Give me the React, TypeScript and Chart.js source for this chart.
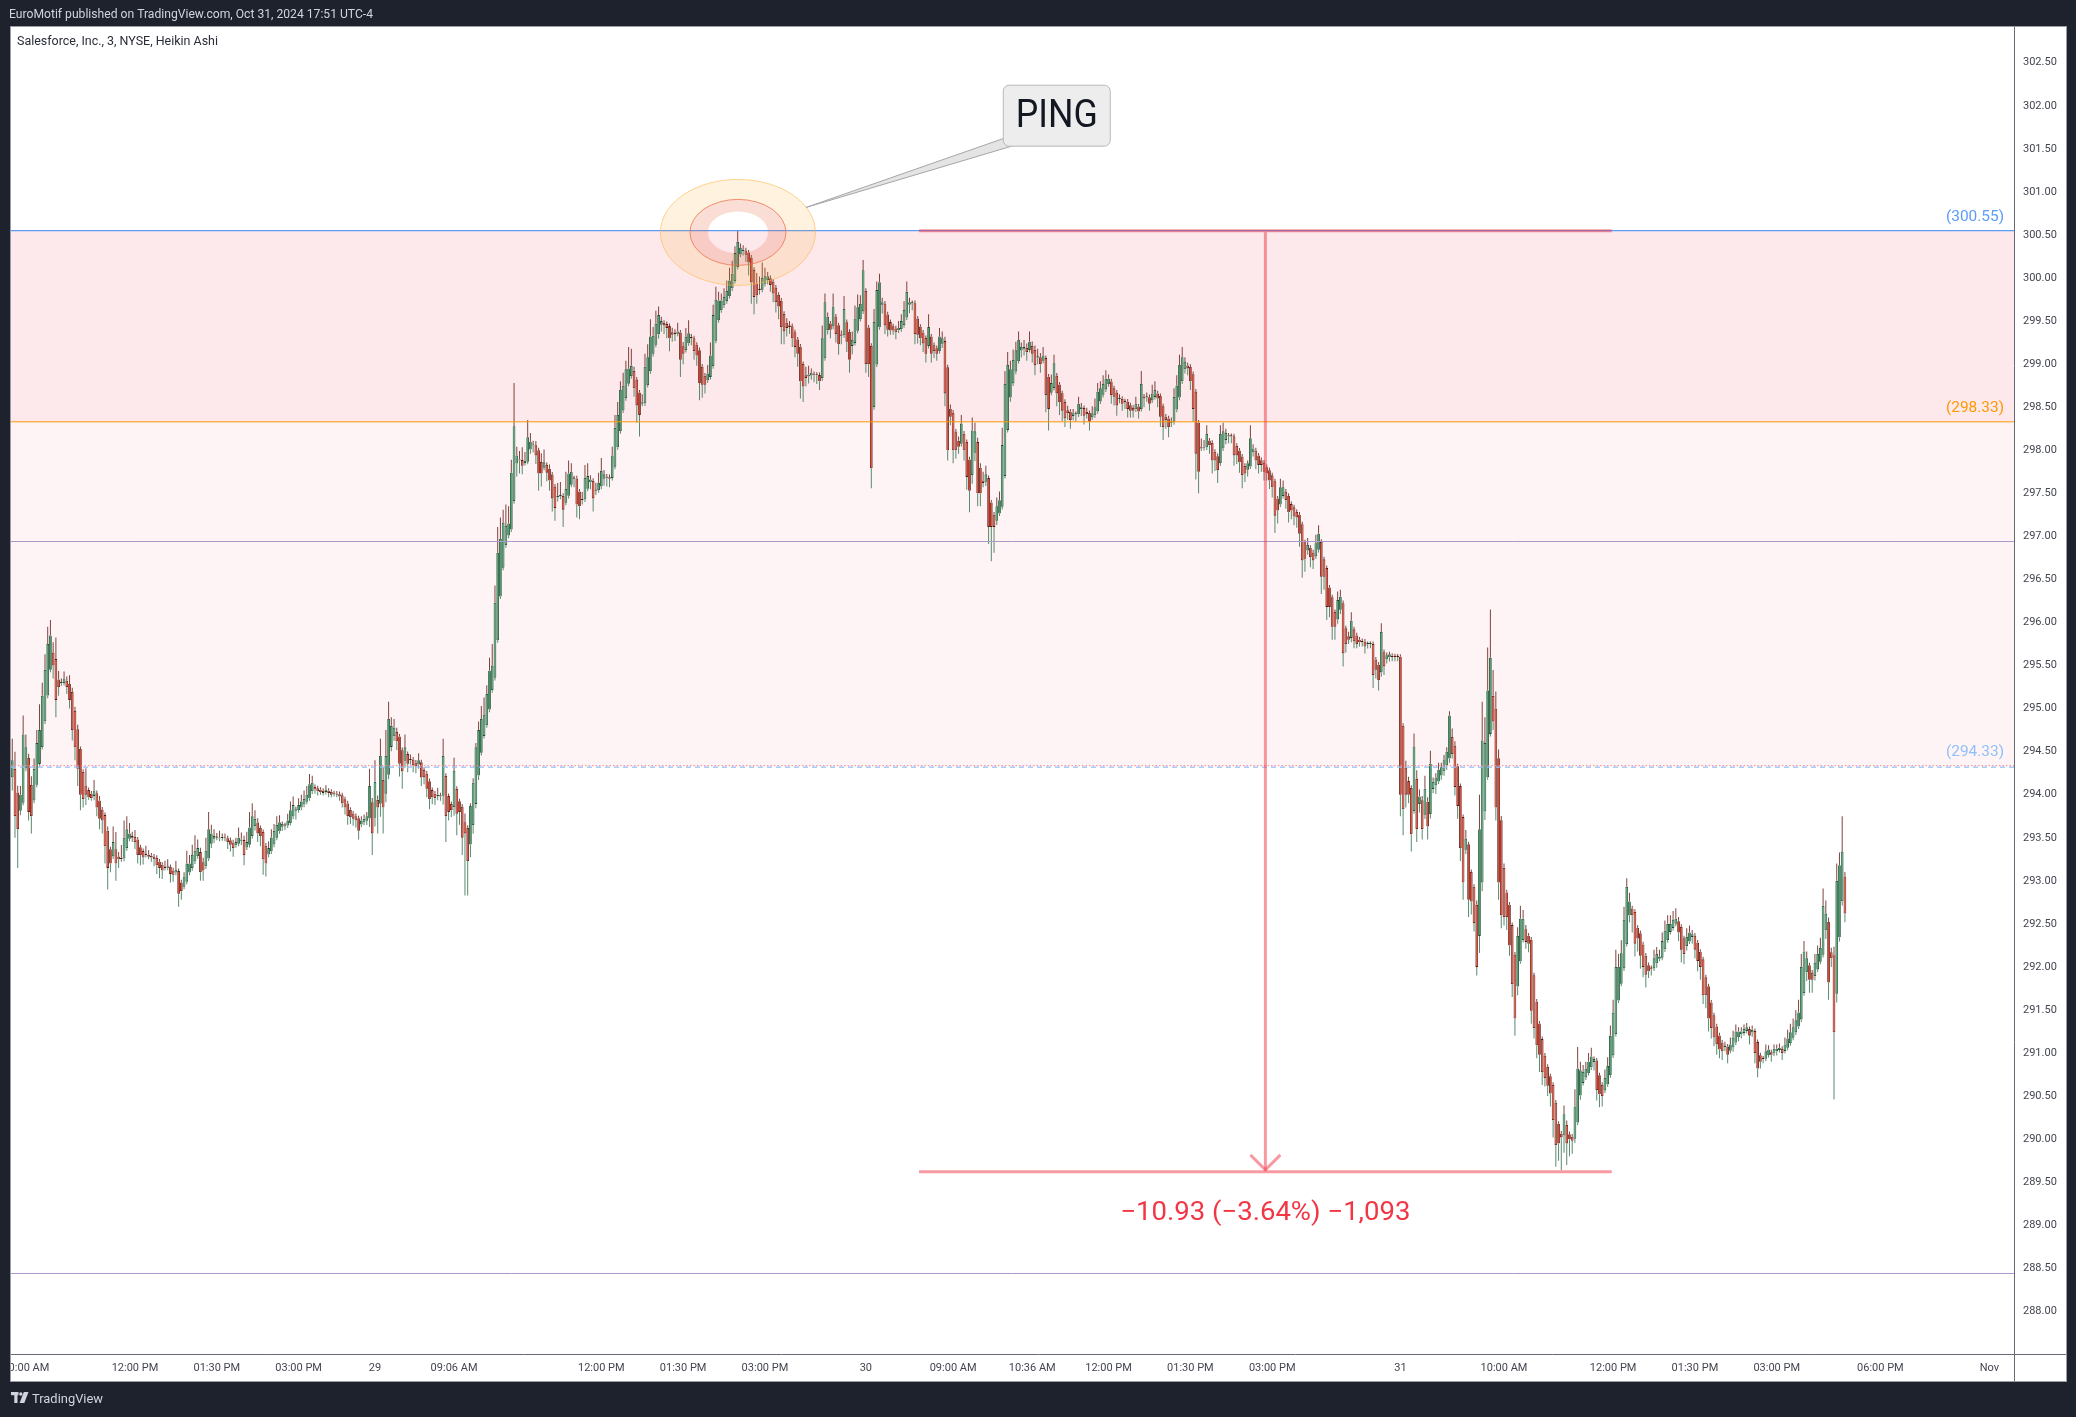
import React, { useEffect, useRef } from 'react';
import { Chart, registerables } from 'chart.js';

Chart.register(...registerables);

// ================= DATA =================
// Heikin Ashi, 3-minute bars. Bar index 0 = Oct 28 09:45.
const haSeedOpen = 294.2;

// Oct 28 regular session (09:45 - 15:57)
const oct28Close = [
  294.40,293.75,293.60,294.00,294.70,294.55,293.80,293.75,294.30,294.60,
  294.75,295.15,295.45,295.75,295.85,295.50,295.10,295.25,295.30,295.35,
  295.25,295.10,294.75,294.55,294.30,294.00,293.95,294.00,293.97,293.96,
  294.05,293.85,293.72,293.70,293.40,293.15,293.20,293.45,293.20,293.25,
  293.25,293.50,293.60,293.55,293.50,293.45,293.30,293.30,293.27,293.30,
  293.28,293.27,293.25,293.18,293.15,293.12,293.15,293.17,293.08,293.07,
  293.13,292.85,292.88,293.05,293.20,293.20,293.30,293.35,293.38,293.10,
  293.12,293.35,293.60,293.55,293.52,293.50,293.49,293.50,293.49,293.45,
  293.42,293.38,293.45,293.50,293.48,293.30,293.45,293.62,293.75,293.72,
  293.55,293.52,293.25,293.20,293.38,293.50,293.58,293.65,293.68,293.66,
  293.64,293.70,293.82,293.88,293.83,293.88,293.92,293.95,294.00,294.12,
  294.14,294.06,294.04,294.03,294.02,294.06,294.02,294.00,294.01,294.00,
  293.98,293.90,293.85,293.75,293.74];
const oct28Up = [
  25,20,8,10,22,15,5,10,12,15, 30,15,18,20,18,12,25,10,5,8,
  5,10,5,5,5,3,3,20,3,3, 12,3,5,3,3,5,3,18,20,5,
  15,20,15,12,5,8,3,3,3,10, 5,3,3,3,3,3,8,8,3,3,
  10,3,3,5,15,10,12,18,10,5, 5,15,20,10,8,5,8,5,5,3,
  3,3,5,12,8,5,12,18,15,10, 5,3,3,3,8,10,8,10,8,3,
  3,8,10,10,3,8,8,10,10,12, 8,3,3,3,3,5,3,3,3,3,
  3,3,3,3,3];
const oct28Down = [
  15,25,45,5,3,3,10,20,3,3, 3,3,3,3,3,15,20,10,3,3,
  8,10,12,15,20,18,10,12,3,3, 5,10,12,15,20,25,10,3,20,10,
  3,3,3,3,5,8,10,12,8,3, 3,5,8,10,12,10,3,3,10,8,
  3,15,10,3,3,3,3,3,3,10, 12,3,3,5,5,3,3,3,3,8,
  8,10,3,3,5,12,3,3,3,5, 10,12,18,15,3,3,3,3,3,5,
  5,3,3,3,10,3,3,3,3,3, 3,5,5,3,3,3,5,3,3,3,
  5,5,8,10,8];

// Extended hours Oct 28 post / Oct 29 pre
const ext1Close = [
  293.72,293.70,293.58,293.70,293.72,293.75,294.10,293.55,294.15,293.85,
  294.45,293.85,294.45,294.88,294.80,294.78,294.62,294.36,294.27,294.55,
  294.36,294.40,294.34,294.33,294.40,294.20,294.20,294.07,293.95,293.97,
  293.96,294.00,293.98,294.45,293.75,293.80,293.82,294.28,293.78,293.80,
  293.50];
const ext1Up = [
  3,3,3,5,5,5,20,5,25,5, 20,15,30,20,10,10,5,3,3,15,
  3,5,3,3,8,3,3,3,3,3, 3,8,3,20,3,3,3,15,3,3, 3];
const ext1Down = [
  8,8,10,3,3,5,10,25,10,30, 15,30,10,5,5,5,10,15,20,8,
  10,5,8,8,5,10,8,10,12,8, 8,5,5,10,30,10,8,10,25,15, 20];

// Oct 29 regular session
const oct29Close = [
  293.55,293.23,293.87,294.14,294.55,294.75,294.88,294.93,295.17,295.44,
  295.50,296.23,296.81,296.97,297.16,297.12,297.15,297.74,298.28,297.94,
  297.88,297.82,297.88,298.15,298.10,298.06,297.94,297.73,297.73,297.86,
  297.74,297.65,297.44,297.33,297.47,297.48,297.31,297.55,297.73,297.75,
  297.67,297.37,297.35,297.42,297.68,297.70,297.66,297.44,297.53,297.62,
  297.76,297.72,297.68,297.67,297.94,298.26,298.41,298.70,298.75,298.94,
  298.95,298.98,298.72,298.52,298.41,298.55,298.97,299.08,299.32,299.33,
  299.47,299.57,299.50,299.45,299.42,299.30,299.34,299.35,299.38,299.05,
  299.12,299.32,299.36,299.30,299.15,299.10,298.78,298.76,298.76,298.89,
  299.10,299.57,299.75,299.74,299.74,299.78,299.85,299.97,300.05,300.29,
  300.42,300.35,300.33,300.27,300.18,299.95,299.78,299.80,299.86,300.00,
  300.02,300.02,299.92,299.82,299.72,299.67,299.43,299.38,299.42,299.43,
  299.30,299.20,299.12,298.80,298.74,298.84,298.88,298.90,298.87,298.87];
const oct29Up = [
  10,3,3,5,5,10,15,20,10,15, 25,20,30,25,15,25,20,15,50,10,
  10,15,10,20,10,5,5,3,10,15, 3,5,3,3,15,15,3,20,15,10,
  3,3,3,8,15,15,5,3,8,12, 15,5,3,3,10,15,15,10,15,10,
  25,20,5,3,3,10,15,15,20,10, 15,10,5,3,3,3,5,5,10,3,
  5,10,15,5,3,3,3,3,3,10, 15,12,15,10,8,10,12,15,15,8,
  13,5,5,3,3,3,3,12,15,18, 10,5,3,3,3,3,3,3,5,5,
  3,3,3,3,3,10,10,5,3,3];
const oct29Down = [
  72,40,15,10,5,5,3,3,3,3, 3,3,3,3,3,3,3,3,3,15,
  15,10,3,3,5,8,10,20,15,3, 10,12,15,15,5,3,20,3,3,3,
  10,15,15,5,3,3,8,15,5,3, 3,8,10,10,3,3,3,3,3,3,
  3,3,10,20,25,3,3,3,3,3, 3,5,8,10,12,15,8,8,3,20,
  12,3,3,8,10,12,20,15,10,3, 3,3,3,3,3,3,3,3,3,3,
  3,3,5,8,15,25,20,10,5,3, 3,5,8,10,12,15,20,15,10,8,
  10,12,15,20,18,10,8,5,8,10];

// Extended hours Oct 29 post / Oct 30 pre
const ext2Close = [
  298.80,299.30,299.72,299.55,299.40,299.67,299.35,299.23,299.33,299.64,
  299.26,299.05,299.28,299.53,299.66,299.70,300.09,299.00,299.00,297.79,
  299.49,299.86,299.95,299.72,299.45,299.40,299.39,299.39,299.37,299.42,
  299.50,299.63,299.84,299.72,299.71,299.35,299.34,299.30,299.24,299.12,
  299.43,299.12,299.15,299.12,299.32,299.30,298.66,298.00,298.39,298.00,
  298.00,298.04,298.31,298.00,297.69,297.53];
const ext2Up = [
  3,15,10,5,3,15,3,3,5,15, 3,3,10,15,15,10,12,3,3,3,
  15,10,10,5,3,3,3,3,3,8, 8,10,12,5,3,3,3,3,3,3,
  15,3,3,3,10,8,5,3,5,3, 3,5,10,3,3,3];
const ext2Down = [
  10,3,3,5,10,3,10,12,10,3, 12,15,10,3,3,3,3,10,15,23,
  3,3,3,10,10,8,5,5,8,3, 3,3,3,10,8,12,10,8,10,10,
  3,10,8,8,3,5,15,12,10,15, 10,8,3,12,15,25];

// Oct 30 regular session
const oct30Close = [
  298.23,298.22,297.50,297.50,297.62,297.72,297.11,297.11,297.11,297.35,
  297.42,298.06,298.77,298.99,298.94,299.05,299.16,299.28,299.20,299.20,
  299.14,299.26,299.12,298.99,299.08,299.00,299.10,298.64,298.48,298.78,
  299.01,298.66,298.56,298.46,298.37,298.43,298.35,298.43,298.42,298.54,
  298.50,298.40,298.42,298.33,298.43,298.50,298.68,298.72,298.77,298.83,
  298.83,298.64,298.62,298.52,298.60,298.54,298.56,298.48,298.46,298.46,
  298.54,298.45,298.77,298.60,298.62,298.54,298.66,298.70,298.60,298.39,
  298.27,298.35,298.27,298.33,298.62,298.75,298.99,299.08,299.03,298.95,
  298.80,298.48,297.96,297.75,298.02,298.04,298.19,298.06,297.88,297.88,
  297.77,298.19,298.22,298.20,298.17,298.16,297.94,297.94,297.86,297.71,
  297.73,297.85,298.14,298.02,297.88,297.83,297.83,297.75,297.73,297.65,
  297.57,297.24,297.30,297.57,297.57,297.42,297.28,297.30,297.23,297.22,
  297.03,296.72,296.74,296.90,296.76,296.72,296.92,297.03,296.53,296.53];
const oct30Up = [
  15,10,5,5,10,10,3,3,3,10, 10,20,15,15,10,12,10,10,5,8,
  5,12,5,5,10,5,10,3,3,10, 10,3,3,3,3,5,3,5,3,8,
  5,3,5,3,8,10,10,8,10,10, 5,3,3,3,5,3,3,3,3,3,
  8,3,15,3,5,3,10,10,3,3, 3,3,3,5,10,12,12,12,5,3,
  3,3,3,3,10,8,10,3,3,3, 3,10,10,5,3,3,3,3,3,3,
  3,3,15,5,3,3,3,3,3,3, 3,3,3,10,8,3,3,3,3,3,
  3,3,3,8,3,3,10,10,3,3];
const oct30Down = [
  10,10,15,15,5,5,20,40,30,5, 3,3,3,3,5,3,3,3,8,8,
  10,3,10,12,8,10,3,20,25,3, 3,15,15,12,10,8,10,5,8,3,
  8,10,5,10,3,3,3,3,3,3, 3,10,10,12,5,8,8,10,8,8,
  3,8,3,10,5,8,3,3,10,12, 15,10,12,5,3,3,3,3,5,8,
  10,15,30,25,3,3,3,10,15,12, 15,3,3,5,8,8,12,10,12,15,
  10,8,3,5,10,10,8,10,8,10, 12,20,15,3,3,10,12,10,10,12,
  15,20,15,5,12,10,3,3,20,15];

// Extended hours Oct 30 post / Oct 31 pre
const ext3Close = [
  296.18,296.18,295.95,295.95,296.26,296.30,295.64,295.75,295.80,296.02,
  295.78,295.75,295.77,295.77,295.72,295.75,295.75,295.39,295.45,295.33,
  295.89,295.49,295.62,295.63,295.60,295.60,295.60,294.00,293.83,294.00,
  294.00,293.54,294.56,293.60,293.98,293.60,294.07,293.63,294.36,294.15,
  294.20,294.29,294.32,294.41,294.50,294.92,294.47,294.09,293.87,293.38,
  292.98,293.49,292.78,292.76,292.51];
const ext3Up = [
  3,3,3,3,10,8,3,3,5,10, 3,3,3,3,3,3,3,3,3,3,
  10,3,3,3,3,3,3,3,3,8, 5,3,15,10,8,5,15,5,15,5,
  5,8,5,5,5,5,10,5,3,3, 3,10,3,3,3];
const ext3Down = [
  15,12,15,15,5,5,15,10,5,5, 8,5,5,5,8,5,5,15,10,12,
  5,10,5,5,5,5,5,25,30,15, 10,20,3,15,10,12,5,15,5,5,
  10,3,5,5,5,5,5,10,15,15, 20,5,20,15,10];

// Oct 31 regular session
const oct31Close = [
  292.00,293.60,294.63,294.60,295.21,295.59,294.85,293.85,292.98,292.60,
  292.58,292.58,292.25,291.80,291.40,292.36,292.56,292.56,292.29,292.27,
  291.49,291.29,291.09,290.98,290.78,290.71,290.62,290.53,290.22,289.93,
  289.95,290.02,290.29,289.95,290.00,289.98,290.38,290.82,290.80,290.78,
  290.82,290.90,290.96,290.93,290.57,290.52,290.50,290.71,290.85,291.20,
  291.47,292.00,292.00,292.16,292.55,292.93,292.76,292.60,292.27,292.33,
  292.13,292.00,291.91,291.95,291.98,292.10,292.15,292.12,292.30,292.42,
  292.50,292.50,292.55,292.56,292.40,292.20,292.15,292.35,292.40,292.38,
  292.20,292.07,292.00,291.67,291.67,291.40,291.29,291.18,291.10,291.04,
  291.02,291.08,290.98,291.10,291.18,291.25,291.25,291.25,291.28,291.30,
  291.20,291.27,291.00,290.82,290.90,290.93,291.02,291.04,290.98,291.05,
  291.05,291.06,291.00,291.10,291.17,291.24,291.30,291.38,291.47,292.00,
  292.18,292.10,291.85,291.85,292.05,292.15,292.22,292.71,292.62,291.82];
const oct31Up = [
  5,40,45,30,50,56,30,20,10,5, 5,3,3,3,3,10,15,10,5,3,
  3,3,3,3,3,3,3,3,3,3, 3,3,10,5,3,3,20,25,10,8,
  8,10,10,3,3,3,3,10,10,12, 15,20,15,15,15,10,10,3,3,3,
  3,3,3,3,3,10,8,8,10,12, 10,10,10,12,5,3,3,10,8,5,
  3,3,3,3,3,3,3,3,3,3, 3,5,3,8,8,8,5,5,5,5,
  3,5,3,3,3,3,8,5,3,5, 5,5,3,8,10,10,10,12,15,15,
  12,8,3,3,10,10,12,20,15,5];
const oct31Down = [
  10,20,10,10,3,3,10,15,20,15, 10,15,12,15,20,10,3,3,8,10,
  15,12,15,20,15,10,12,15,20,25, 20,38,20,25,20,15,5,3,5,3,
  3,3,3,10,12,15,12,3,3,3, 3,3,3,3,3,3,8,20,15,15,
  15,12,15,8,8,3,5,3,3,3, 3,3,3,3,10,15,12,5,3,8,
  10,12,15,10,15,15,12,10,12,10, 10,5,10,3,5,3,5,5,3,3,
  10,5,12,10,8,5,3,3,8,3, 5,3,8,3,3,3,3,3,3,3,
  3,10,15,15,5,3,3,3,10,20];

// Oct 31 post-market
const post31Close = [292.10,291.24,293.00,293.18,293.34,292.62];
const post31Up = [5,10,20,15,41,5];
const post31Down = [10,78,10,5,5,10];

// Levels and drawings (price / bar-index units)
const levelTop = 300.55;
const levelMid = 298.33;
const levelLow = 294.33;
const guideLevels = [296.94, 288.44];
const levelLabels = ['(300.55)', '(298.33)', '(294.33)'];
const measureFromIdx = 332.5;
const measureToIdx = 586.5;
const measureTop = 300.55;
const measureBottom = 289.62;
const measureText = '\u221210.93 (\u22123.64%) \u22121,093';
const pingCenterIdx = 266.1;
const pingCenterPrice = 300.53;
const calloutTipIdx = 291.1;
const calloutTipPrice = 300.82;
const calloutBoxIdx = 383;
const calloutBoxPrice = 301.885;
const calloutText = 'PING';

// X axis tick labels (bar index -> label)
const xTickIndex = [5,45,75,105,133,162,216,246,276,313,345,374,402,432,462,509,547,587,617,647,685,725];
const xTickLabels = ['10:00 AM','12:00 PM','01:30 PM','03:00 PM','29','09:06 AM','12:00 PM','01:30 PM','03:00 PM','30','09:00 AM','10:36 AM','12:00 PM','01:30 PM','03:00 PM','31','10:00 AM','12:00 PM','01:30 PM','03:00 PM','06:00 PM','Nov'];

const headerText = 'EuroMotif published on TradingView.com, Oct 31, 2024 17:51 UTC-4';
const titleText = 'Salesforce, Inc., 3, NYSE, Heikin Ashi';
const footerText = 'TradingView';

// ================= BUILD =================
const closes = [...oct28Close, ...ext1Close, ...oct29Close, ...ext2Close, ...oct30Close, ...ext3Close, ...oct31Close, ...post31Close];
const ups = [...oct28Up, ...ext1Up, ...oct29Up, ...ext2Up, ...oct30Up, ...ext3Up, ...oct31Up, ...post31Up];
const downs = [...oct28Down, ...ext1Down, ...oct29Down, ...ext2Down, ...oct30Down, ...ext3Down, ...oct31Down, ...post31Down];

const opens: number[] = [];
for (let i = 0; i < closes.length; i++) {
  opens.push(i === 0 ? haSeedOpen : (opens[i - 1] + closes[i - 1]) / 2);
}
const isUp = closes.map((c, i) => c >= opens[i]);

const W = 2076, H = 1417;
const PANEL = { l: 11, t: 27, r: 2066, b: 1381 };
const DARK = '#1e222d';
const GREEN_FILL = '#449466';
const GREEN_LINE = '#154a2b';
const RED_FILL = '#dc3b24';
const RED_LINE = '#57150c';
const WICK_UP = 'rgba(112,48,42,0.9)';
const WICK_DOWN = 'rgba(72,124,94,0.9)';

function fitText(ctx: any, text: string, x: number, baseline: number, font: string, targetW: number, align: string, color: string) {
  ctx.save();
  ctx.font = font;
  ctx.fillStyle = color;
  ctx.textBaseline = 'alphabetic';
  ctx.textAlign = 'left';
  const w = ctx.measureText(text).width || 1;
  const sx = targetW / w;
  const left = align === 'left' ? x : align === 'center' ? x - targetW / 2 : x - targetW;
  ctx.translate(left, baseline);
  ctx.scale(sx, 1);
  ctx.fillText(text, 0, 0);
  ctx.restore();
}

const decorPlugin = {
  id: 'tvDecor',
  beforeDraw(chart: any) {
    const ctx = chart.ctx;
    ctx.save();
    ctx.fillStyle = DARK;
    ctx.fillRect(0, 0, W, H);
    ctx.fillStyle = '#ffffff';
    ctx.fillRect(PANEL.l, PANEL.t, PANEL.r - PANEL.l, PANEL.b - PANEL.t);
    ctx.restore();
  },
  beforeDatasetsDraw(chart: any) {
    const { ctx, chartArea: a, scales } = chart;
    const y = scales.y;
    const yT = y.getPixelForValue(levelTop), yM = y.getPixelForValue(levelMid), yL = y.getPixelForValue(levelLow);
    ctx.save();
    ctx.fillStyle = 'rgba(242,54,69,0.055)';
    ctx.fillRect(a.left, yT, a.right - a.left, yL - yT);
    ctx.fillRect(a.left, yT, a.right - a.left, yM - yT);
    ctx.restore();
  },
  afterDatasetsDraw(chart: any) {
    const { ctx, chartArea: a, scales } = chart;
    const xs = scales.x, ys = scales.y;
    const px = (v: number) => xs.getPixelForValue(v);
    const py = (v: number) => ys.getPixelForValue(v);
    ctx.save();
    ctx.beginPath();
    ctx.rect(a.left, a.top, a.right - a.left, a.bottom - a.top);
    ctx.clip();

    const hline = (yy: number, color: string, lw: number, dash: number[]) => {
      ctx.beginPath();
      ctx.setLineDash(dash);
      ctx.strokeStyle = color;
      ctx.lineWidth = lw;
      ctx.moveTo(a.left, yy);
      ctx.lineTo(a.right, yy);
      ctx.stroke();
      ctx.setLineDash([]);
    };
    guideLevels.forEach((g) => hline(py(g), '#ab98c9', 1, []));
    hline(py(levelMid), '#ff9800', 1, []);
    hline(py(levelTop), '#5b9cf6', 1.3, []);
    hline(py(levelLow) + 0.8, '#90bff9', 1.3, [5, 4]);
    hline(py(levelLow) - 0.6, '#f28b94', 1, [1.5, 2]);

    // target circles
    const cx = px(pingCenterIdx), cy = py(pingCenterPrice);
    const ring = (r1x: number, r1y: number, r2x: number, r2y: number, fill: string) => {
      ctx.beginPath();
      ctx.moveTo(cx + r1x, cy);
      ctx.ellipse(cx, cy, r1x, r1y, 0, 0, Math.PI * 2);
      ctx.moveTo(cx + r2x, cy);
      ctx.ellipse(cx, cy, r2x, r2y, 0, 0, Math.PI * 2);
      ctx.fillStyle = fill;
      ctx.fill('evenodd');
    };
    ring(77.5, 53, 48, 33, 'rgba(255,167,38,0.15)');
    ring(48, 33, 30, 21, 'rgba(230,100,60,0.22)');
    ctx.lineWidth = 1;
    ctx.beginPath();
    ctx.ellipse(cx, cy, 77.5, 53, 0, 0, Math.PI * 2);
    ctx.strokeStyle = 'rgba(255,183,77,0.6)';
    ctx.stroke();
    ctx.beginPath();
    ctx.ellipse(cx, cy, 48, 33, 0, 0, Math.PI * 2);
    ctx.strokeStyle = 'rgba(236,112,72,0.75)';
    ctx.stroke();

    // price range measurement
    const mx1 = px(measureFromIdx), mx2 = px(measureToIdx), mxc = (mx1 + mx2) / 2;
    const myT = py(measureTop), myB = py(measureBottom);
    ctx.strokeStyle = 'rgba(242,54,69,0.5)';
    ctx.lineWidth = 3;
    ctx.beginPath();
    ctx.moveTo(mx1, myT); ctx.lineTo(mx2, myT);
    ctx.stroke();
    ctx.beginPath();
    ctx.moveTo(mx1, myB); ctx.lineTo(mx2, myB);
    ctx.stroke();
    ctx.beginPath();
    ctx.moveTo(mxc, myT + 1.5); ctx.lineTo(mxc, myB - 1.5);
    ctx.stroke();
    ctx.beginPath();
    ctx.moveTo(mxc - 15, myB - 17); ctx.lineTo(mxc, myB - 2); ctx.lineTo(mxc + 15, myB - 17);
    ctx.stroke();

    // callout
    const tipX = px(calloutTipIdx), tipY = py(calloutTipPrice);
    const bx = px(calloutBoxIdx), by = py(calloutBoxPrice);
    const bw = 107, bh = 61;
    const l = bx - bw / 2, t = by - bh / 2;
    ctx.lineWidth = 1;
    ctx.beginPath();
    ctx.moveTo(tipX, tipY);
    ctx.lineTo(l + 1, t + bh - 8);
    ctx.lineTo(l + 10, t + bh - 0.5);
    ctx.closePath();
    ctx.fillStyle = '#e4e4e4';
    ctx.fill();
    ctx.strokeStyle = '#a6a6a6';
    ctx.stroke();
    ctx.beginPath();
    if (ctx.roundRect) ctx.roundRect(l, t, bw, bh, 6); else ctx.rect(l, t, bw, bh);
    ctx.fillStyle = '#ededed';
    ctx.fill();
    ctx.strokeStyle = '#b9b9b9';
    ctx.stroke();
    ctx.restore();

    fitText(ctx, calloutText, bx, t + 42, '38px Roboto', 82, 'center', '#131722');
    fitText(ctx, measureText, mxc, myB + 48, '26px Roboto', 290, 'center', '#f23645');

    // level labels
    const lblColors = ['#5b9cf6', '#ff9800', '#90bff9'];
    [levelTop, levelMid, levelLow].forEach((lv, k) => {
      fitText(ctx, levelLabels[k], a.right - 10, py(lv) - 10, '15px Roboto', 58, 'right', lblColors[k]);
    });

    fitText(ctx, titleText, 17, 45, '12px Roboto', 201, 'left', '#2a2e39');
  },
  afterDraw(chart: any) {
    const { ctx, chartArea: a, scales } = chart;
    const xs = scales.x;
    ctx.save();
    ctx.strokeStyle = '#676a74';
    ctx.lineWidth = 1;
    ctx.beginPath();
    ctx.moveTo(a.right + 0.5, PANEL.t);
    ctx.lineTo(a.right + 0.5, PANEL.b);
    ctx.moveTo(PANEL.l, a.bottom + 0.5);
    ctx.lineTo(PANEL.r, a.bottom + 0.5);
    ctx.stroke();
    ctx.strokeStyle = '#9a9da6';
    ctx.strokeRect(PANEL.l - 0.5, PANEL.t - 0.5, PANEL.r - PANEL.l + 1, PANEL.b - PANEL.t + 1);

    // x labels
    ctx.beginPath();
    ctx.rect(PANEL.l, a.bottom + 1, a.right - PANEL.l, PANEL.b - a.bottom - 1);
    ctx.clip();
    ctx.font = '11px Roboto';
    ctx.fillStyle = '#434651';
    ctx.textAlign = 'center';
    ctx.textBaseline = 'alphabetic';
    xTickIndex.forEach((idx, k) => {
      ctx.fillText(xTickLabels[k], xs.getPixelForValue(idx), 1370.5);
    });
    ctx.restore();

    // header and footer
    fitText(ctx, headerText, 9, 18, '12px Roboto', 364, 'left', '#d1d4dc');
    fitText(ctx, footerText, 32, 1403, '13px Roboto', 71, 'left', '#d1d4dc');
    ctx.save();
    ctx.fillStyle = '#d1d4dc';
    ctx.fillRect(11, 1392, 7.5, 3.2);
    ctx.fillRect(14.3, 1392, 3.2, 11);
    ctx.beginPath();
    ctx.arc(20.8, 1394, 1.7, 0, Math.PI * 2);
    ctx.fill();
    ctx.beginPath();
    ctx.moveTo(23.8, 1392); ctx.lineTo(28.5, 1392); ctx.lineTo(24.3, 1403); ctx.lineTo(19.6, 1403);
    ctx.closePath();
    ctx.fill();
    ctx.restore();
  },
};

export default function App() {
  const ref = useRef<HTMLCanvasElement>(null);
  useEffect(() => {
    document.body.style.margin = '0';
    document.body.style.overflow = 'hidden';
    const canvas = ref.current;
    if (!canvas) return;
    const bodyData = closes.map((c, i) => ({ x: i, y: [opens[i], c] }));
    const upData = closes.map((c, i) => {
      const hi = Math.max(opens[i], c);
      return { x: i, y: [hi, hi + ups[i] / 100] };
    });
    const downData = closes.map((c, i) => {
      const lo = Math.min(opens[i], c);
      return { x: i, y: [lo - downs[i] / 100, lo] };
    });
    const chart = new Chart(canvas, {
      type: 'bar',
      data: {
        datasets: [
          { data: upData, backgroundColor: WICK_UP, borderWidth: 0, barThickness: 1, grouped: false, order: 3, inflateAmount: 0 } as any,
          { data: downData, backgroundColor: WICK_DOWN, borderWidth: 0, barThickness: 1, grouped: false, order: 2, inflateAmount: 0 } as any,
          {
            data: bodyData,
            backgroundColor: isUp.map((u) => (u ? GREEN_FILL : RED_FILL)),
            borderColor: isUp.map((u) => (u ? GREEN_LINE : RED_LINE)),
            borderWidth: 0.85,
            borderSkipped: false,
            barThickness: 2.7,
            minBarLength: 1.2,
            grouped: false,
            order: 1,
            inflateAmount: 0,
          } as any,
        ],
      },
      options: {
        animation: false,
        responsive: false,
        devicePixelRatio: 1,
        events: [],
        layout: { padding: { left: 11, top: 27, right: 10, bottom: 63 } },
        plugins: { legend: { display: false }, tooltip: { enabled: false } },
        scales: {
          x: { type: 'linear', min: -0.46, max: 734, offset: false, display: false },
          y: {
            type: 'linear',
            position: 'right',
            min: 287.505,
            max: 302.915,
            grid: { display: false, drawTicks: false },
            border: { display: false },
            ticks: {
              stepSize: 0.5,
              includeBounds: false,
              autoSkip: false,
              maxTicksLimit: 100,
              padding: 9,
              color: '#434651',
              font: { family: 'Roboto', size: 11 },
              callback: (v: any) => Number(v).toFixed(2),
            },
            afterFit: (s: any) => { s.width = 52; },
          },
        },
      } as any,
      plugins: [decorPlugin],
    });
    return () => chart.destroy();
  }, []);
  return (
    <div style={{ position: 'absolute', left: 0, top: 0, width: W, height: H, background: DARK }}>
      <canvas ref={ref} width={W} height={H} style={{ display: 'block', width: W, height: H }} />
    </div>
  );
}
